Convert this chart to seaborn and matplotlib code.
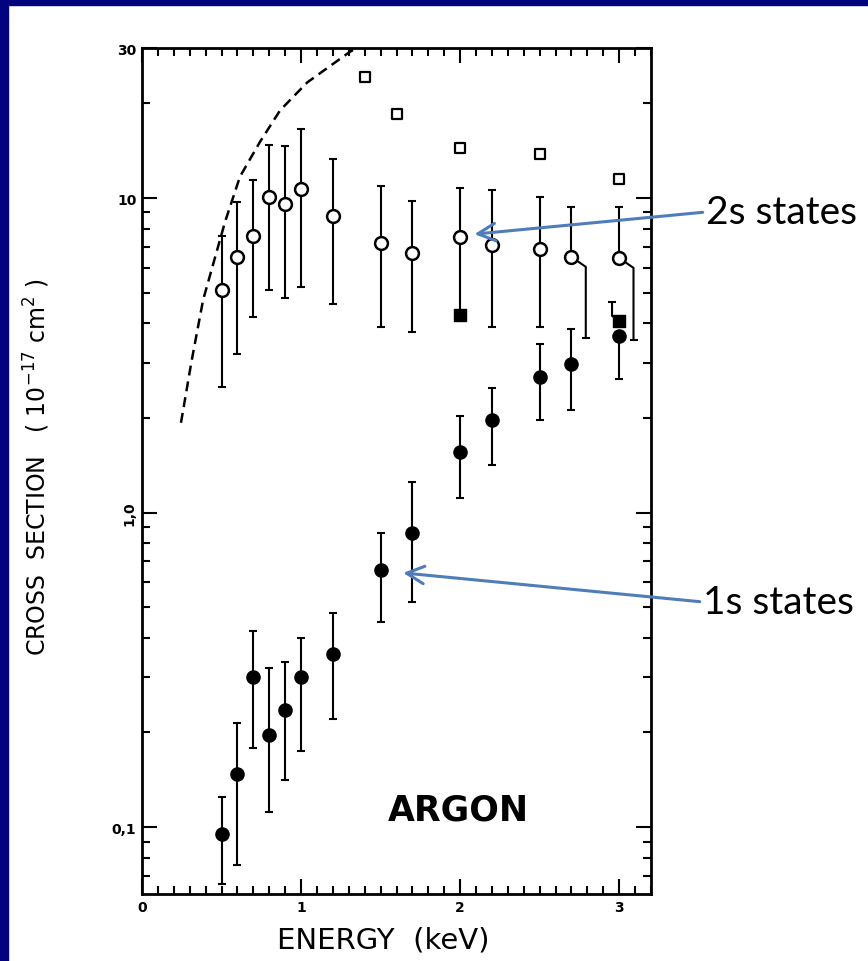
import matplotlib
matplotlib.use("Agg")
import matplotlib.pyplot as plt
import numpy as np
import pandas as pd
import seaborn as sns
from matplotlib.patches import Rectangle
from matplotlib.ticker import FixedLocator, NullFormatter

# 2s states (open circles), values in 1e-17 cm^2
e_2s = [0.5, 0.6, 0.7, 0.8, 0.9, 1.0, 1.2, 1.5, 1.7, 2.0, 2.2, 2.5, 2.7, 3.0]
v_2s = [5.1, 6.5, 7.6, 10.1, 9.6, 10.7, 8.8, 7.2, 6.7, 7.5, 7.1, 6.9, 6.5, 6.45]
hi_2s = [7.6, 9.7, 11.4, 14.8, 14.6, 16.6, 13.3, 10.9, 9.8, 10.8, 10.6, 10.1, 9.4, 9.4]
lo_2s = [2.5, 3.2, 4.2, 5.1, 4.8, 5.2, 4.6, 3.9, 3.75, 4.3, 3.9, 3.9, 3.6, 3.55]

# 1s states (filled circles)
e_1s = [0.5, 0.6, 0.7, 0.8, 0.9, 1.0, 1.2, 1.5, 1.7, 2.0, 2.2, 2.5, 2.7, 3.0]
v_1s = [0.095, 0.148, 0.30, 0.196, 0.235, 0.30, 0.355, 0.656, 0.86, 1.56, 1.97, 2.69, 2.96, 3.64]
hi_1s = [0.125, 0.215, 0.42, 0.32, 0.335, 0.40, 0.48, 0.86, 1.25, 2.03, 2.49, 3.43, 3.83, 4.67]
lo_1s = [0.066, 0.076, 0.178, 0.112, 0.141, 0.175, 0.22, 0.449, 0.52, 1.11, 1.42, 1.97, 2.12, 2.65]

# bars drawn beside the point where the plot gets crowded
shift_2s_at = [2.7, 3.0]
shift_2s_x = [2.79, 3.09]
shift_1s_at = [3.0]
shift_1s_x = [2.955]
shift_1s_from = [4.06]

# open squares (total), filled squares
e_sq = [1.4, 1.6, 2.0, 2.5, 3.0]
v_sq = [24.2, 18.5, 14.4, 13.8, 11.5]
e_fsq = [2.0, 3.0]
v_fsq = [4.25, 4.06]

# dashed theory curve
curve_e = [0.245, 0.31, 0.384, 0.522, 0.616, 0.742, 0.868, 1.038, 1.308, 1.35]
curve_v = [1.93, 3.0, 4.74, 8.4, 11.7, 15.1, 19.0, 23.3, 29.2, 30.0]

yticks = [0.1, 1.0, 10, 30]
ytick_labels = ["0,1", "1,0", "10", "30"]
xticks = [0, 1, 2, 3]

sns.set_style("ticks")
plt.rcParams["font.family"] = ["DejaVu Sans"]
plt.rcParams["text.color"] = "black"
plt.rcParams["axes.labelcolor"] = "black"

W, H = 868, 962
fig = plt.figure(figsize=(W / 100, H / 100), dpi=100, facecolor="white")
ax = fig.add_axes([142 / W, 1 - 895 / H, 509 / W, (895 - 49) / H])

# slide frame
navy = "#03037f"
fig.patches.append(Rectangle((0, 1 - 6 / H), 1, 6 / H, transform=fig.transFigure,
                             color=navy, zorder=0))
fig.patches.append(Rectangle((0, 0), 8 / W, 1, transform=fig.transFigure,
                             color=navy, zorder=0))

ax.set_yscale("log")

d2 = pd.DataFrame(dict(e=e_2s, v=v_2s, hi=hi_2s, lo=lo_2s))
d1 = pd.DataFrame(dict(e=e_1s, v=v_1s, hi=hi_1s, lo=lo_1s))
d2["lo_draw"] = np.where(d2.e.isin(shift_2s_at), d2.v, d2.lo)
d1["hi_draw"] = np.where(d1.e.isin(shift_1s_at), d1.v, d1.hi)

bar_kw = dict(fmt="none", ecolor="black", elinewidth=1.5, capsize=3, capthick=1.5, zorder=2)
ax.errorbar(d2.e, d2.v, yerr=[d2.v - d2.lo_draw, d2.hi - d2.v], **bar_kw)
ax.errorbar(d1.e, d1.v, yerr=[d1.v - d1.lo, d1.hi_draw - d1.v], **bar_kw)

# side-drawn bars with their little hooks
for at, sx in zip(shift_2s_at, shift_2s_x):
    row = d2[d2.e == at].iloc[0]
    ax.plot([row.e, sx, sx], [row.v, row.v * 0.93, row.lo], color="black", lw=1.5, zorder=2)
    ax.plot([sx], [row.lo], marker="_", ms=6, mew=1.5, color="black", zorder=2)
for at, sx, start in zip(shift_1s_at, shift_1s_x, shift_1s_from):
    row = d1[d1.e == at].iloc[0]
    ax.plot([row.e, sx, sx], [start, start * 1.04, row.hi], color="black", lw=1.5, zorder=2)
    ax.plot([sx], [row.hi], marker="_", ms=6, mew=1.5, color="black", zorder=2)

dc = pd.DataFrame(dict(e=curve_e, v=curve_v))
sns.lineplot(data=dc, x="e", y="v", ax=ax, color="black", lw=1.8, sort=False,
             estimator=None, linestyle=(0, (4, 2.4)), zorder=2)

sns.scatterplot(data=d2, x="e", y="v", ax=ax, marker="o", s=85, color="white",
                edgecolor="black", linewidth=1.8, zorder=3)
sns.scatterplot(data=d1, x="e", y="v", ax=ax, marker="o", s=90, color="black",
                edgecolor="black", linewidth=1, zorder=3)
sns.scatterplot(x=e_sq, y=v_sq, ax=ax, marker="s", s=45, color="white",
                edgecolor="black", linewidth=1.6, zorder=3)
sns.scatterplot(x=e_fsq, y=v_fsq, ax=ax, marker="s", s=70, color="black",
                edgecolor="black", linewidth=1, zorder=3)

ax.set_xlim(0, 3.2)
ax.set_ylim(0.0613, 30)

ax.set_xticks(xticks, labels=[str(t) for t in xticks])
ax.xaxis.set_minor_locator(FixedLocator(np.arange(0, 3.21, 0.1)))
ax.set_yticks(yticks, labels=ytick_labels)
minor_y = [m * 10.0 ** k for k in (-2, -1, 0, 1) for m in range(2, 10)]
ax.yaxis.set_minor_locator(FixedLocator(minor_y))
ax.yaxis.set_minor_formatter(NullFormatter())
for lbl in ax.get_yticklabels():
    if lbl.get_text() == "1,0":
        lbl.set_rotation(90)
        lbl.set_va("center")

ax.tick_params(which="both", direction="in", top=True, right=True, width=1.5,
               colors="black", labelcolor="black", labelsize=10, pad=4)
ax.tick_params(which="major", length=11)
ax.tick_params(which="minor", length=6)
for lbl in ax.get_xticklabels() + ax.get_yticklabels():
    lbl.set_fontweight("bold")
for s in ax.spines.values():
    s.set_linewidth(2)
    s.set_color("black")

ax.set_xlabel("ENERGY  (keV)", fontsize=21, labelpad=0, color="black")
ax.xaxis.label.set_va("center")
ax.xaxis.set_label_coords((383 - 142) / 509, (895 - 941) / 846)
ax.set_ylabel(r"CROSS  SECTION   ( $10^{-17}$ cm$^2$ )", fontsize=17, color="black")
ax.yaxis.label.set_va("center")
ax.yaxis.set_label_coords((37 - 142) / 509, (895 - 467) / 846)

ax.text(1.99, 0.114, "ARGON", fontsize=25, fontweight="bold", ha="center",
        va="center", color="black")

arrow_kw = dict(arrowstyle="->,head_length=0.9,head_width=0.45", color="#4f7dba",
                lw=2.2, shrinkA=0, shrinkB=0, mutation_scale=14)
ax.annotate("2s states", xy=(2.09, 7.68), xycoords="data",
            xytext=(706 / W, 1 - 213 / H), textcoords="figure fraction",
            ha="left", va="center", fontsize=28, family=["Lato", "DejaVu Sans"],
            color="black", arrowprops=dict(relpos=(0, 0.5), **arrow_kw),
            annotation_clip=False)
ax.annotate("1s states", xy=(1.642, 0.643), xycoords="data",
            xytext=(703 / W, 1 - 603 / H), textcoords="figure fraction",
            ha="left", va="center", fontsize=28, family=["Lato", "DejaVu Sans"],
            color="black", arrowprops=dict(relpos=(0, 0.5), **arrow_kw),
            annotation_clip=False)

fig.savefig("out.png", dpi=100)
